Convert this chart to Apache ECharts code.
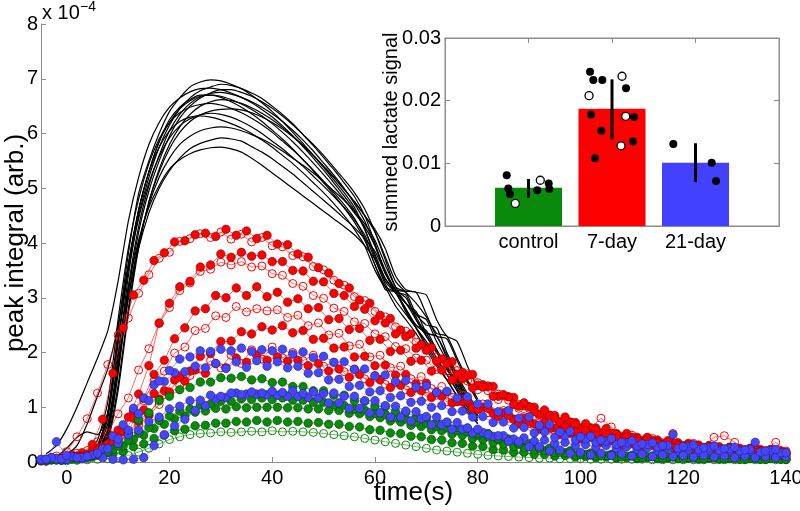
<!DOCTYPE html>
<html>
<head>
<meta charset="utf-8">
<script src="https://cdn.jsdelivr.net/npm/echarts@6/dist/echarts.min.js"></script>
<style>
  html, body { margin: 0; padding: 0; background: #fff; }
  #chart { width: 800px; height: 511px; }
</style>
</head>
<body>
<div id="chart"></div>
<script>
// ---- main plot data (values in units of 1e-4) ----
var xTicks = [0, 20, 40, 60, 80, 100, 120, 140];

var timeBlack = [-4, -2, 0, 2, 4, 6, 8, 10, 12, 14, 16, 18, 20, 22, 24, 26, 28, 30, 32, 34,
  36, 38, 40, 42, 44, 46, 48, 50, 52, 54, 56, 58, 60, 62, 64, 66, 68, 70, 72, 74, 76, 78, 80];

// two sampling grids, traces are acquired on even or odd seconds
var timeEven = [-4, -2, 0, 2, 4, 6, 8, 10, 12, 14, 16, 18, 20, 22, 24, 26, 28, 30, 32, 34,
  36, 38, 40, 42, 44, 46, 48, 50, 52, 54, 56, 58, 60, 62, 64, 66, 68, 70, 72, 74,
  76, 78, 80, 82, 84, 86, 88, 90, 92, 94, 96, 98, 100, 102, 104, 106, 108, 110, 112, 114,
  116, 118, 120, 122, 124, 126, 128, 130, 132, 134, 136, 138, 140];
var timeOdd = [-5, -3, -1, 1, 3, 5, 7, 9, 11, 13, 15, 17, 19, 21, 23, 25, 27, 29, 31, 33,
  35, 37, 39, 41, 43, 45, 47, 49, 51, 53, 55, 57, 59, 61, 63, 65, 67, 69, 71, 73,
  75, 77, 79, 81, 83, 85, 87, 89, 91, 93, 95, 97, 99, 101, 103, 105, 107, 109, 111, 113,
  115, 117, 119, 121, 123, 125, 127, 129, 131, 133, 135, 137, 139];

// black traces
var black = [
  [0.02,0.03,0.05,0.1,0.15,0.3,0.9,2.4,3.8,4.9, 5.5,6.0,6.4,6.65,6.85,6.94,6.98,6.96,6.9,6.82,
   6.7,6.56,6.4,6.22,6.02,5.82,5.6,5.38,5.15,4.92, 4.65,4.25,3.75,3.3,3.1,3.05,2.6,2.3,2.0,1.7, 1.4,1.1,0.85],
  [0.02,0.03,0.05,0.08,0.12,0.2,0.6,1.9,3.4,4.5, 5.2,5.75,6.15,6.45,6.65,6.78,6.85,6.9,6.88,6.82,
   6.74,6.64,6.5,6.35,6.18,5.98,5.78,5.56,5.34,5.1, 4.85,4.5,4.0,3.45,3.15,2.9,2.75,2.35,2.05,1.75, 1.45,1.15,0.9],
  [0.02,0.03,0.04,0.06,0.1,0.18,0.5,1.6,3.1,4.2, 4.95,5.5,5.95,6.28,6.5,6.65,6.74,6.8,6.8,6.75,
   6.68,6.58,6.46,6.32,6.16,5.98,5.8,5.6,5.38,5.16, 4.92,4.62,4.2,3.7,3.2,3.12,3.1,2.7,2.3,2.25, 1.85,1.45,1.1],
  [0.02,0.03,0.05,0.1,0.14,0.25,0.8,2.2,3.6,4.6, 5.3,5.85,6.25,6.48,6.62,6.7,6.7,6.66,6.58,6.48,
   6.36,6.22,6.06,5.9,5.72,5.52,5.32,5.1,4.88,4.64, 4.38,4.05,3.6,3.15,3.1,2.75,2.5,2.4,2.05,1.7, 1.35,1.05,0.8],
  [0.02,0.03,0.03,0.05,0.08,0.15,0.4,1.3,2.7,3.9, 4.75,5.35,5.8,6.12,6.35,6.5,6.58,6.62,6.6,6.55,
   6.47,6.37,6.25,6.11,5.95,5.78,5.6,5.4,5.2,4.98, 4.76,4.5,4.25,3.9,3.4,3.15,3.1,3.05,2.6,2.3, 2.2,1.75,1.35],
  [0.02,0.04,0.06,0.12,0.2,0.4,1.1,2.6,3.9,4.8, 5.45,5.9,6.2,6.38,6.48,6.53,6.55,6.52,6.46,6.38,
   6.28,6.16,6.02,5.86,5.7,5.52,5.33,5.13,4.92,4.7, 4.45,4.1,3.6,3.2,2.85,2.6,2.35,2.05,1.75,1.5, 1.2,0.95,0.7],
  [0.02,0.03,0.04,0.07,0.1,0.17,0.45,1.4,2.8,3.95, 4.75,5.3,5.72,6.02,6.22,6.34,6.41,6.44,6.45,6.43,
   6.38,6.3,6.2,6.08,5.94,5.78,5.6,5.4,5.2,4.98, 4.75,4.5,4.2,3.75,3.3,3.1,2.9,2.65,2.35,2.3, 1.9,1.5,1.15],
  [0.02,0.03,0.05,0.1,0.15,0.3,0.9,2.2,3.5,4.45, 5.1,5.58,5.92,6.14,6.27,6.34,6.37,6.35,6.3,6.22,
   6.12,6.0,5.86,5.72,5.56,5.4,5.22,5.04,4.85,4.65, 4.42,4.15,3.7,3.25,2.95,2.7,2.45,2.15,1.85,1.6, 1.3,1.0,0.75],
  [0.02,0.03,0.04,0.08,0.12,0.22,0.6,1.7,3.0,4.0, 4.7,5.2,5.55,5.8,5.95,6.05,6.1,6.12,6.1,6.05,
   5.98,5.9,5.8,5.68,5.55,5.42,5.28,5.12,4.95,4.78, 4.58,4.35,4.05,3.6,3.2,2.9,2.7,2.6,2.2,1.85, 1.5,1.15,0.85],
  [0.02,0.03,0.05,0.09,0.13,0.25,0.7,1.8,3.0,3.9, 4.55,5.0,5.32,5.55,5.72,5.82,5.88,5.92,5.9,5.86,
   5.76,5.66,5.54,5.4,5.26,5.1,4.94,4.78,4.62,4.45, 4.28,4.08,3.85,3.45,3.1,2.9,2.6,2.3,2.0,1.7, 1.4,1.1,0.8],
  [0.02,0.04,0.06,0.1,0.16,0.3,0.85,2.0,3.2,4.05, 4.65,5.05,5.35,5.52,5.63,5.7,5.74,5.75,5.72,5.66,
   5.55,5.42,5.28,5.14,5.0,4.86,4.72,4.58,4.44,4.3, 4.15,3.95,3.7,3.35,3.1,2.8,2.5,2.35,2.3,1.9, 1.5,1.15,0.85],
  [0.15,0.3,0.6,1.0,1.45,1.9,2.4,3.3,4.4,5.2, 5.8,6.2,6.48,6.65,6.76,6.82,6.83,6.8,6.74,6.66,
   6.56,6.44,6.3,6.14,5.96,5.76,5.55,5.33,5.1,4.86, 4.6,4.25,3.8,3.35,3.1,2.8,2.45,2.1,1.8,1.5, 1.2,0.9,0.7],
  [0.05,0.08,0.15,0.3,0.7,1.2,1.7,2.5,3.6,4.6, 5.3,5.85,6.2,6.45,6.6,6.68,6.7,6.68,6.62,6.54,
   6.44,6.32,6.18,6.02,5.85,5.66,5.46,5.25,5.03,4.8, 4.55,4.3,3.95,3.5,3.15,3.1,2.7,2.5,2.45,2.0, 1.6,1.25,0.95],
  [0.03,0.1,0.25,0.45,0.55,0.5,0.9,2.2,3.6,4.6, 5.3,5.75,6.05,6.22,6.3,6.32,6.3,6.25,6.18,6.1,
   6.0,5.88,5.75,5.6,5.45,5.28,5.1,4.92,4.72,4.5, 4.25,3.95,3.5,3.2,3.1,2.75,2.45,2.2,1.9,1.6, 1.3,1.0,0.75],
  [0.02,0.03,0.04,0.07,0.11,0.2,0.55,1.7,3.2,4.3, 5.05,5.6,6.05,6.35,6.55,6.67,6.73,6.75,6.72,6.66,
   6.58,6.48,6.36,6.22,6.06,5.88,5.68,5.46,5.24,5.0, 4.72,4.4,3.95,3.45,3.15,3.0,2.65,2.35,2.3,1.95, 1.55,1.2,0.9]
];

// red traces (7-day)
var redFilledA = [0.03,0.06,0.07,0.13,0.17,0.32,0.78,1.62,2.45,3.05, 3.32,3.68,3.82,4.02,4.04,4.15,4.18,4.12,4.25,4.14,
  4.22,4.08,4.14,3.98,3.97,3.8,3.74,3.55,3.45,3.26, 3.18,2.96,2.9,2.68,2.62,2.41,2.34,2.14,2.09,1.88,
  1.83,1.64,1.6,1.41,1.38,1.22,1.18,1.03,1.0,0.87, 0.85,0.73,0.72,0.61,0.62,0.52,0.52,0.45,0.45,0.38,
  0.4,0.33,0.35,0.29,0.31,0.25,0.28,0.23,0.25,0.2, 0.23,0.19,0.2];
var redFilledB = [0.02,0.05,0.05,0.11,0.14,0.24,0.33,0.58,0.82,1.24, 1.76,2.54,2.9,3.2,3.3,3.56,3.6,3.8,3.74,3.83,
  3.76,3.78,3.66,3.66,3.5,3.49,3.3,3.29,3.08,3.04, 2.84,2.79,2.58,2.54,2.34,2.29,2.08,2.04,1.84,1.8,
  1.6,1.58,1.4,1.38,1.2,1.19,1.02,1.01,0.87,0.85, 0.73,0.72,0.62,0.61,0.53,0.52,0.45,0.45,0.38,0.39,
  0.33,0.35,0.29,0.31,0.25,0.28,0.22,0.25,0.2,0.23, 0.18,0.21,0.17];
var redFilledC = [0.02,0.04,0.04,0.09,0.11,0.2,0.26,0.45,0.6,0.94, 1.16,1.6,1.86,2.25,2.45,2.76,2.8,3.04,3.0,3.18,
  3.04,3.2,3.02,3.1,2.92,2.98,2.8,2.82,2.6,2.62, 2.42,2.44,2.22,2.24,2.02,2.04,1.84,1.86,1.66,1.68,
  1.5,1.52,1.35,1.37,1.2,1.23,1.05,1.08,0.92,0.95, 0.8,0.82,0.68,0.7,0.58,0.61,0.5,0.52,0.42,0.45,
  0.36,0.39,0.31,0.34,0.27,0.3,0.24,0.27,0.21,0.25, 0.19,0.23,0.18];
var redFilledD = [0.02,0.05,0.05,0.1,0.12,0.21,0.25,0.41,0.49,0.74, 0.86,1.15,1.28,1.57,1.66,1.93,1.98,2.2,2.21,2.38,
  2.34,2.47,2.41,2.49,2.36,2.4,2.24,2.26,2.08,2.1, 1.92,1.93,1.76,1.77,1.59,1.6,1.43,1.44,1.27,1.28,
  1.11,1.13,0.96,0.98,0.83,0.85,0.7,0.73,0.6,0.62, 0.5,0.53,0.42,0.45,0.36,0.39,0.31,0.34,0.27,0.3,
  0.23,0.26,0.2,0.23,0.18,0.21,0.16,0.19,0.14,0.17, 0.13,0.16,0.13];
var redFilledE = [0.03,0.04,0.06,0.08,0.1,0.14,0.2,0.35,0.55,0.8, 0.95,1.25,1.3,1.5,1.48,1.68,1.62,1.8,1.72,1.9,
  1.82,1.95,1.86,1.92,1.84,1.86,1.76,1.8,1.66,1.7, 1.55,1.6,1.45,1.5,1.36,1.4,1.27,1.3,1.18,1.2,
  1.08,1.1,0.98,1.0,0.88,0.9,0.78,0.8,0.7,0.72, 0.62,0.64,0.55,0.57,0.48,0.5,0.43,0.45,0.38,0.4,
  0.34,0.36,0.3,0.32,0.27,0.29,0.24,0.26,0.22,0.24, 0.2,0.22,0.2];
var redOpenA = [0.05,0.11,0.19,0.46,0.79,1.26,1.78,2.32,2.63,3.08, 3.42,3.72,3.83,4.03,4.08,4.17,4.1,4.2,4.07,4.16,
  4.02,4.1,3.95,3.93,3.77,3.75,3.57,3.51,3.32,3.23, 3.02,2.95,2.75,2.65,2.47,2.39,2.19,2.11,1.92,1.83,
  1.67,1.61,1.45,1.39,1.24,1.19,1.05,1.01,0.87,0.86, 0.72,0.73,0.6,0.61,0.52,0.53,0.43,0.45,0.37,0.4,
  0.31,0.35,0.27,0.31,0.24,0.28,0.21,0.25,0.18,0.23, 0.16,0.21,0.15];
var redOpenB = [0.04,0.07,0.09,0.16,0.21,0.37,0.53,0.88,1.17,1.68, 2.07,2.53,2.82,3.13,3.27,3.48,3.52,3.65,3.6,3.66,
  3.56,3.58,3.44,3.41,3.26,3.21,3.04,2.99,2.81,2.75, 2.56,2.53,2.34,2.29,2.11,2.07,1.9,1.86,1.69,1.66,
  1.5,1.48,1.32,1.3,1.14,1.13,0.98,0.98,0.84,0.85, 0.72,0.73,0.61,0.63,0.8,0.64,0.47,0.49,0.4,0.43,
  0.35,0.52,0.3,0.34,0.27,0.45,0.48,0.36,0.23,0.27, 0.21,0.36,0.2];
var redOpenC = [0.03,0.06,0.06,0.11,0.13,0.22,0.28,0.48,0.62,0.93, 1.12,1.48,1.66,1.99,2.1,2.4,2.44,2.67,2.64,2.84,
  2.74,2.8,2.76,2.78,2.64,2.68,2.49,2.54,2.32,2.35, 2.12,2.15,1.92,1.95,1.72,1.75,1.52,1.56,1.34,1.38,
  1.18,1.22,1.02,1.06,0.9,0.94,0.78,0.83,0.66,0.71, 0.57,0.61,0.49,0.52,0.42,0.46,0.36,0.4,0.31,0.35,
  0.27,0.31,0.24,0.28,0.21,0.26,0.19,0.24,0.17,0.22, 0.16,0.2,0.15];
var redOpenD = [0.04,0.06,0.08,0.1,0.14,0.18,0.25,0.35,0.5,0.68, 0.85,1.05,1.25,1.4,1.58,1.7,1.85,1.72,1.95,1.8,
  2.05,1.88,2.1,1.9,2.0,1.85,1.95,1.75,1.82,1.65, 1.7,1.52,1.58,1.42,1.45,1.32,1.35,1.2,1.22,1.1,
  1.1,1.0,0.98,0.9,0.86,0.8,0.75,0.7,0.66,0.6, 0.56,0.53,0.5,0.46,0.44,0.41,0.38,0.36,0.34,0.32,
  0.3,0.29,0.27,0.26,0.25,0.24,0.23,0.22,0.21,0.2, 0.19,0.19,0.18];

// blue traces (21-day)
var blueA = [0.05,0.37,0.12,0.08,0.1,0.16,0.24,0.42,0.58,0.88, 1.12,1.48,1.67,1.88,1.92,2.03,2.02,2.06,2.03,2.08,
  2.02,2.05,2.03,2.06,1.97,2.01,1.91,1.93,1.82,1.83, 1.69,1.7,1.57,1.59,1.47,1.49,1.37,1.39,1.27,1.29,
  1.17,1.19,1.06,1.06,0.92,0.94,0.8,0.82,0.67,0.68, 0.55,0.56,0.46,0.47,0.4,0.43,0.36,0.39,0.33,0.35,
  0.3,0.5,0.28,0.31,0.26,0.29,0.24,0.27,0.22,0.36, 0.2,0.23,0.17];
var blueB = [0.05,0.08,0.06,0.1,0.08,0.13,0.24,0.47,0.68,0.98, 1.17,1.41,1.47,1.63,1.65,1.75,1.72,1.8,1.71,1.83,
  1.73,1.85,1.75,1.83,1.72,1.75,1.62,1.63,1.5,1.51, 1.38,1.4,1.28,1.3,1.18,1.21,1.09,1.11,1.0,1.03,
  0.92,0.93,0.82,0.83,0.72,0.73,0.62,0.63,0.53,0.55, 0.45,0.48,0.4,0.42,0.36,0.38,0.32,0.35,0.29,0.32,
  0.27,0.3,0.25,0.28,0.23,0.26,0.21,0.24,0.2,0.23, 0.18,0.21,0.17];
var blueC = [0.04,0.06,0.05,0.08,0.1,0.14,0.26,0.34,0.5,0.58, 0.74,0.82,0.97,1.02,1.12,1.13,1.22,1.2,1.26,1.23,
  1.28,1.26,1.29,1.27,1.3,1.25,1.28,1.25,1.26,1.2, 1.2,1.12,1.12,1.03,1.02,0.93,0.92,0.83,0.82,0.73,
  0.72,0.62,0.6,0.5,0.48,0.38,0.37,0.28,0.28,0.2, 0.22,0.16,0.18,0.13,0.16,0.12,0.15,0.11,0.14,0.1,
  0.13,0.1,0.12,0.09,0.12,0.09,0.11,0.08,0.11,0.08, 0.1,0.08,0.1];
var blueD = [0.03,0.08,0.04,0.1,0.06,0.12,0.08,0.05,0.04,0.05, 0.08,0.3,0.5,0.66,0.78,0.94,1.03,1.15,1.18,1.26,
  1.24,1.24,1.23,1.22,1.2,1.2,1.18,1.17,1.08,1.08, 0.98,0.98,0.9,0.9,0.82,0.82,0.75,0.79,0.68,0.68,
  0.6,0.6,0.53,0.54,0.47,0.48,0.42,0.44,0.38,0.4, 0.34,0.36,0.3,0.32,0.27,0.3,0.25,0.28,0.23,0.26,
  0.21,0.24,0.19,0.22,0.18,0.21,0.17,0.2,0.16,0.19, 0.15,0.17,0.14];

// green traces (control)
var greenA = [0.05,0.04,0.06,0.05,0.08,0.13,0.19,0.36,0.53,0.77, 0.9,1.12,1.2,1.32,1.36,1.46,1.46,1.54,1.53,1.56,
  1.5,1.52,1.45,1.46,1.38,1.38,1.3,1.3,1.22,1.22, 1.12,1.11,1.02,1.01,0.92,0.91,0.82,0.81,0.72,0.72,
  0.63,0.62,0.53,0.52,0.43,0.42,0.33,0.33,0.25,0.25, 0.18,0.2,0.14,0.16,0.11,0.13,0.09,0.11,0.08,0.1,
  0.07,0.09,0.07,0.08,0.06,0.08,0.06,0.07,0.05,0.07, 0.05,0.07,0.05];
var greenB = [0.03,0.05,0.04,0.06,0.07,0.11,0.14,0.23,0.29,0.41, 0.49,0.61,0.69,0.79,0.84,0.91,0.93,0.98,0.97,1.01,
  0.99,1.0,1.0,1.0,0.99,0.99,0.97,0.97,0.94,0.94, 0.89,0.88,0.83,0.81,0.75,0.73,0.67,0.65,0.59,0.57,
  0.51,0.49,0.43,0.41,0.35,0.33,0.28,0.27,0.22,0.21, 0.17,0.17,0.13,0.14,0.11,0.12,0.09,0.11,0.08,0.1,
  0.07,0.09,0.07,0.08,0.06,0.08,0.06,0.07,0.05,0.07, 0.05,0.07,0.05];
var greenC = [0.04,0.06,0.05,0.07,0.09,0.13,0.17,0.29,0.39,0.53, 0.63,0.76,0.84,0.93,0.97,1.04,1.06,1.11,1.11,1.15,
  1.14,1.17,1.14,1.17,1.13,1.13,1.09,1.09,1.04,1.03, 0.97,0.95,0.89,0.87,0.81,0.79,0.73,0.71,0.65,0.63,
  0.57,0.55,0.49,0.47,0.41,0.39,0.33,0.31,0.26,0.25, 0.2,0.2,0.16,0.16,0.13,0.14,0.11,0.12,0.09,0.11,
  0.08,0.1,0.08,0.09,0.07,0.09,0.07,0.08,0.06,0.08, 0.06,0.08,0.06];
var greenD = [0.03,0.04,0.03,0.05,0.06,0.09,0.1,0.15,0.19,0.28, 0.33,0.43,0.49,0.57,0.6,0.66,0.67,0.71,0.71,0.74,
  0.73,0.76,0.73,0.76,0.73,0.74,0.71,0.72,0.69,0.69, 0.65,0.64,0.59,0.58,0.53,0.52,0.47,0.46,0.41,0.4,
  0.35,0.34,0.29,0.28,0.23,0.22,0.18,0.18,0.14,0.14, 0.11,0.12,0.09,0.1,0.08,0.09,0.07,0.08,0.06,0.08,
  0.06,0.07,0.06,0.07,0.05,0.07,0.05,0.06,0.05,0.06, 0.05,0.06,0.05];
var greenOpen = [0.02,0.03,0.02,0.03,0.04,0.05,0.06,0.08,0.12,0.18, 0.25,0.33,0.41,0.46,0.5,0.52,0.53,0.55,0.54,0.55,
  0.56,0.55,0.57,0.55,0.56,0.55,0.54,0.52,0.5,0.48, 0.46,0.43,0.4,0.37,0.34,0.31,0.28,0.25,0.22,0.2,
  0.18,0.16,0.14,0.12,0.11,0.1,0.09,0.08,0.07,0.07, 0.06,0.06,0.06,0.05,0.05,0.05,0.05,0.05,0.05,0.04,
  0.04,0.04,0.04,0.04,0.04,0.04,0.04,0.04,0.04,0.04, 0.04,0.04,0.04];

// ---- inset data ----
var insetCats = ['control', '7-day', '21-day'];
var insetTicks = [1, 2, 3];
var barMeans = [0.0061, 0.0187, 0.0101];
var errLow = [0.0045, 0.0138, 0.0070];
var errHigh = [0.0075, 0.0234, 0.0132];
var dotsFilled = [
  [0.739, 0.0081], [0.758, 0.0060], [0.778, 0.0051], [1.105, 0.0057], [1.242, 0.0068], [1.249, 0.0059],
  [1.737, 0.0246], [1.776, 0.0233], [1.884, 0.0233], [2.168, 0.0220], [1.749, 0.0178], [2.263, 0.0174],
  [1.872, 0.0152], [2.251, 0.0135], [1.796, 0.0108],
  [2.734, 0.0131], [3.194, 0.0101], [3.246, 0.0072]
];
var dotsOpen = [
  [0.842, 0.0036], [1.141, 0.0073],
  [2.120, 0.0239], [1.725, 0.0208], [2.164, 0.0175], [2.108, 0.0128]
];

var FONT = 'Liberation Sans, Arial, Helvetica, sans-serif';
var RED = '#ff0000', BLUE = '#4646ff', GREEN = '#0a8a0a';
var barColors = [GREEN, RED, '#4141ff'];

function pairs(times, vals) {
  return vals.map(function (v, i) { return [times[i], v]; });
}

var series = [];

black.forEach(function (vals) {
  series.push({
    type: 'line', xAxisIndex: 0, yAxisIndex: 0,
    data: pairs(timeBlack, vals),
    symbol: 'none', smooth: 0.2,
    lineStyle: { color: '#000', width: 1.2 },
    silent: true
  });
});

function dotLine(times, vals, color, edge, open) {
  return {
    type: 'line', xAxisIndex: 0, yAxisIndex: 0,
    data: pairs(times, vals),
    symbol: 'circle', symbolSize: open ? 8 : 8.5, showSymbol: true,
    clip: false,
    lineStyle: { color: color, width: 0.6 },
    itemStyle: open
      ? { color: 'rgba(255,255,255,0)', borderColor: color, borderWidth: 1 }
      : { color: color, borderColor: edge, borderWidth: 0.6 },
    silent: true
  };
}

series.push(dotLine(timeEven, redOpenA, RED, '#800000', true));
series.push(dotLine(timeOdd, redFilledA, RED, '#800000', false));
series.push(dotLine(timeEven, redOpenB, RED, '#800000', true));
series.push(dotLine(timeEven, redFilledB, RED, '#800000', false));
series.push(dotLine(timeOdd, redOpenC, RED, '#800000', true));
series.push(dotLine(timeOdd, redFilledC, RED, '#800000', false));
series.push(dotLine(timeEven, redOpenD, RED, '#800000', true));
series.push(dotLine(timeOdd, redFilledE, RED, '#800000', false));
series.push(dotLine(timeEven, redFilledD, RED, '#800000', false));

series.push(dotLine(timeEven, greenOpen, GREEN, '#004000', true));
series.push(dotLine(timeOdd, greenD, GREEN, '#004000', false));
series.push(dotLine(timeOdd, greenB, GREEN, '#004000', false));
series.push(dotLine(timeEven, greenC, GREEN, '#004000', false));
series.push(dotLine(timeEven, greenA, GREEN, '#004000', false));

series.push(dotLine(timeOdd, blueD, BLUE, '#202070', false));
series.push(dotLine(timeEven, blueC, BLUE, '#202070', false));
series.push(dotLine(timeOdd, blueB, BLUE, '#202070', false));
series.push(dotLine(timeEven, blueA, BLUE, '#202070', false));

// inset bars
series.push({
  type: 'bar', xAxisIndex: 1, yAxisIndex: 1,
  barWidth: 67, z: 2,
  data: barMeans.map(function (v, i) {
    return { value: [insetTicks[i], v], itemStyle: { color: barColors[i] } };
  }),
  silent: true
});
series.push({
  type: 'custom', xAxisIndex: 1, yAxisIndex: 1, z: 6,
  data: insetTicks.map(function (x, i) { return [x, errLow[i], errHigh[i]]; }),
  encode: { x: 0, y: [1, 2] },
  renderItem: function (params, api) {
    var x = api.value(0);
    var p1 = api.coord([x, api.value(1)]);
    var p2 = api.coord([x, api.value(2)]);
    return {
      type: 'line',
      shape: { x1: p1[0], y1: p1[1], x2: p2[0], y2: p2[1] },
      style: { stroke: '#000', lineWidth: 3 }
    };
  },
  silent: true
});
series.push({
  type: 'scatter', xAxisIndex: 1, yAxisIndex: 1, z: 7,
  data: dotsFilled, symbolSize: 8,
  itemStyle: { color: '#000', opacity: 1 }, silent: true
});
series.push({
  type: 'scatter', xAxisIndex: 1, yAxisIndex: 1, z: 7,
  data: dotsOpen, symbolSize: 8,
  itemStyle: { color: '#fff', borderColor: '#000', borderWidth: 1.3, opacity: 1 }, silent: true
});

var gray = '#8c8c8c';

var option = {
  animation: false,
  backgroundColor: '#fff',
  textStyle: { fontFamily: FONT },
  grid: [
    { left: 41, right: 14, top: 24, bottom: 49, outerBoundsMode: 'none' },
    { left: 445, top: 38, width: 334, height: 188, show: true, outerBoundsMode: 'none',
      borderColor: gray, borderWidth: 1, backgroundColor: '#fff' }
  ],
  xAxis: [
    {
      type: 'value', gridIndex: 0, min: -5, max: 140,
      axisLine: { show: true, onZero: false, lineStyle: { color: gray } },
      axisTick: { show: true, inside: true, length: 5, customValues: xTicks, lineStyle: { color: gray } },
      axisLabel: { customValues: xTicks, color: '#000', fontSize: 20, margin: 6 },
      splitLine: { show: false },
      name: 'time(s)', nameLocation: 'middle', nameGap: 18, nameMoveOverlap: false,
      nameTextStyle: { color: '#000', fontSize: 26 }
    },
    {
      type: 'value', gridIndex: 1, min: 0, max: 4,
      axisLine: { show: true, onZero: false, lineStyle: { color: gray } },
      axisTick: { show: true, inside: true, length: 5, customValues: insetTicks, lineStyle: { color: gray } },
      axisLabel: {
        customValues: insetTicks, color: '#000', fontSize: 20, margin: 6,
        formatter: function (v) { return insetCats[Math.round(v) - 1]; }
      },
      splitLine: { show: false }
    },
    {
      type: 'value', gridIndex: 1, min: 0, max: 4, position: 'top',
      axisLine: { show: true, onZero: false, lineStyle: { color: gray } },
      axisTick: { show: true, inside: true, length: 5, customValues: insetTicks, lineStyle: { color: gray } },
      axisLabel: { show: false },
      splitLine: { show: false }
    }
  ],
  yAxis: [
    {
      type: 'value', gridIndex: 0, min: 0, max: 8, interval: 1,
      axisLine: { show: true, onZero: false, lineStyle: { color: gray } },
      axisTick: { show: true, inside: true, length: 5, lineStyle: { color: gray } },
      axisLabel: { color: '#000', fontSize: 20, margin: 3 },
      splitLine: { show: false },
      name: 'peak integral (arb.)', nameLocation: 'middle', nameGap: 12, nameMoveOverlap: false,
      nameTextStyle: { color: '#000', fontSize: 26 }
    },
    {
      type: 'value', gridIndex: 1, min: 0, max: 0.03, interval: 0.01,
      axisLine: { show: true, onZero: false, lineStyle: { color: gray } },
      axisTick: { show: true, inside: true, length: 5, lineStyle: { color: gray } },
      axisLabel: {
        color: '#000', fontSize: 20, margin: 4,
        formatter: function (v) { return v === 0 ? '0' : v.toFixed(2); }
      },
      splitLine: { show: false },
      name: 'summed lactate signal', nameLocation: 'middle', nameGap: 44, nameMoveOverlap: false,
      nameTextStyle: { color: '#000', fontSize: 20 }
    },
    {
      type: 'value', gridIndex: 1, min: 0, max: 0.03, interval: 0.01, position: 'right',
      axisLine: { show: true, onZero: false, lineStyle: { color: gray } },
      axisTick: { show: true, inside: true, length: 5, lineStyle: { color: gray } },
      axisLabel: { show: false },
      splitLine: { show: false }
    }
  ],
  graphic: [
    { type: 'text', x: 42, y: 23, style: { text: 'x 10', font: '20px ' + FONT, fill: '#000', verticalAlign: 'bottom' } },
    { type: 'text', x: 80, y: 0, style: { text: '\u22124', font: '14px ' + FONT, fill: '#000', verticalAlign: 'top' } }
  ],
  series: series
};

var chart = echarts.init(document.getElementById('chart'), null, { renderer: 'canvas' });
chart.setOption(option);
</script>
</body>
</html>
